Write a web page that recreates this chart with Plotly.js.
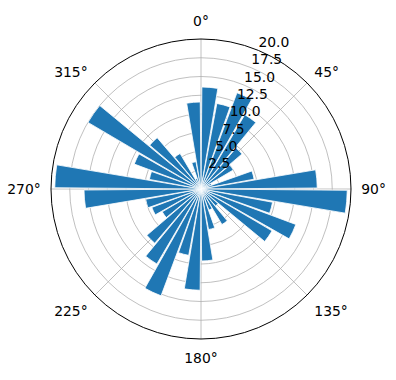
<!DOCTYPE html>
<html>
<head>
<meta charset="utf-8">
<script src="https://cdn.plot.ly/plotly-3.0.1.min.js"></script>
<style>html,body{margin:0;padding:0;background:#fff;}#chart{width:396px;height:380px;}</style>
</head>
<body>
<div id="chart"></div>
<script>
// Bin centres (degrees, clockwise from north) and bar lengths
const thetaDeg = [5, 15, 25, 35, 45, 55, 65, 75, 85, 95, 105, 115, 125, 135, 145, 155, 165, 175,
                  185, 195, 205, 215, 225, 235, 245, 255, 265, 275, 285, 295, 305, 315, 325, 335, 345, 355];
const radii = [13.6, 11.6, 13.7, 11.5, 7.2, 5.0, 1.5, 7.2, 15.5, 19.5, 9.7, 13.5, 11.0, 3.0, 5.5, 3.0, 5.5, 9.6,
               13.5, 9.0, 15.2, 11.6, 9.5, 6.0, 7.0, 7.5, 15.6, 19.5, 7.0, 9.5, 17.5, 9.0, 5.5, 1.5, 3.7, 11.6];
const radialTicks = [2.5, 5, 7.5, 10, 12.5, 15, 17.5, 20];
const radialTickText = ['2.5', '5.0', '7.5', '10.0', '12.5', '15.0', '17.5', '20.0'];
const radialLabelAngle = 22.5;
const angleTicks = [0, 45, 90, 135, 180, 225, 270, 315];
const angleTickText = ['0°', '45°', '90°', '135°', '180°', '225°', '270°', '315°'];

const bars = {
  type: 'barpolar',
  theta: thetaDeg,
  r: radii,
  width: thetaDeg.map(() => 9),
  marker: {color: '#1f77b4', line: {color: '#ffffff', width: 0.8}},
  hoverinfo: 'none'
};

const rLabels = {
  type: 'scatterpolar',
  mode: 'text',
  r: radialTicks,
  theta: radialTicks.map(() => radialLabelAngle),
  text: radialTickText,
  textposition: 'top right',
  textfont: {family: 'DejaVu Sans', size: 13.9, color: '#000'},
  cliponaxis: false,
  hoverinfo: 'none'
};

const layout = {
  width: 396, height: 380,
  margin: {l: 51, r: 45, t: 39, b: 41},
  paper_bgcolor: '#ffffff',
  showlegend: false,
  font: {family: 'DejaVu Sans', size: 13.9, color: '#000'},
  polar: {
    domain: {x: [0, 1], y: [0, 1]},
    bgcolor: '#ffffff',
    bargap: 0,
    angularaxis: {
      rotation: 90,
      direction: 'clockwise',
      tickmode: 'array',
      tickvals: angleTicks,
      ticktext: angleTickText,
      showline: true,
      linecolor: '#000000',
      linewidth: 1,
      showgrid: true,
      gridcolor: '#b0b0b0',
      gridwidth: 0.8,
      ticks: 'outside',
      ticklen: 7,
      tickcolor: 'rgba(0,0,0,0)',
      layer: 'above traces',
      tickfont: {family: 'DejaVu Sans', size: 13.9, color: '#000'}
    },
    radialaxis: {
      range: [0, 20],
      tickmode: 'array',
      tickvals: [0].concat(radialTicks),
      showticklabels: false,
      showline: false,
      showgrid: true,
      gridcolor: '#b0b0b0',
      gridwidth: 0.8,
      ticks: '',
      layer: 'above traces'
    }
  }
};

Plotly.newPlot('chart', [bars, rLabels], layout, {displayModeBar: false, staticPlot: true});
</script>
</body>
</html>
